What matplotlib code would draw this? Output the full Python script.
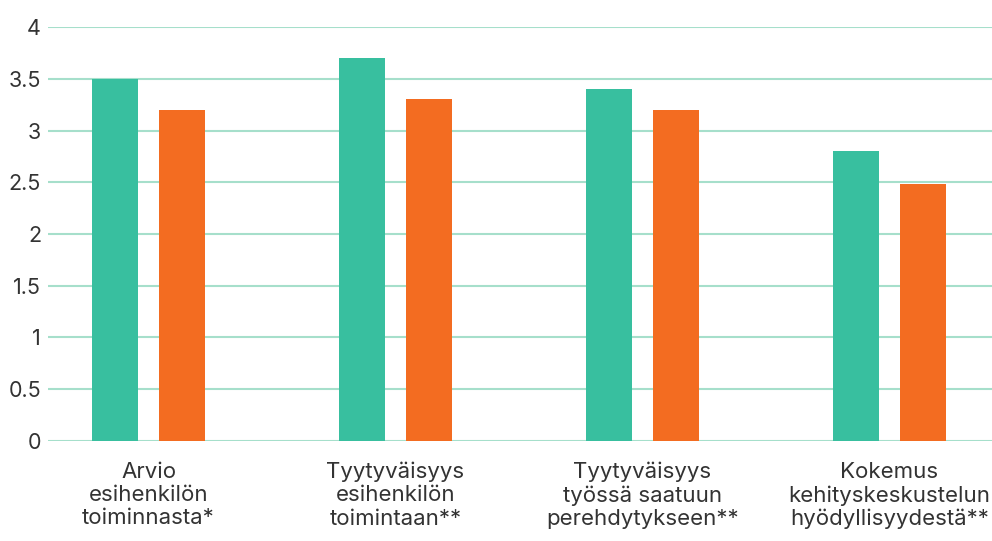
import numpy as np
import matplotlib.pyplot as plt

categories = ['Arvio\nesihenkilön\ntoiminnasta*',
              'Tyytyväisyys\nesihenkilön\ntoimintaan**',
              'Tyytyväisyys\ntyössä saatuun\nperehdytykseen**',
              'Kokemus\nkehityskeskustelun\nhyödyllisyydestä**']
green_vals = [3.5, 3.7, 3.4, 2.8]
orange_vals = [3.2, 3.3, 3.2, 2.48]
yticks = [0, 0.5, 1, 1.5, 2, 2.5, 3, 3.5, 4]

plt.rcParams['font.family'] = ['Inter', 'DejaVu Sans']

fig = plt.figure(figsize=(9.92, 5.41), dpi=100)
ax = fig.add_axes([0.0484, 0.185, 0.9516, 0.765])

x = np.arange(len(categories))
w = 0.186
off = 0.136
ax.bar(x - off, green_vals, w, color='#38bf9f', zorder=3)
ax.bar(x + off, orange_vals, w, color='#f36c21', zorder=3)

ax.set_ylim(0, 4)
ax.set_xlim(-0.407, 3.415)
ax.set_yticks(yticks)
ax.set_yticklabels(['0', '0.5', '1', '1.5', '2', '2.5', '3', '3.5', '4'])
ax.yaxis.grid(True, color='#a6dfcb', linewidth=1.5, zorder=0)
ax.set_xticks(x)
ax.set_xticklabels(categories, linespacing=1.2)
for s in ax.spines.values():
    s.set_visible(False)
ax.tick_params(axis='y', length=0, pad=5, labelsize=15.5, labelcolor='#333333')
ax.tick_params(axis='x', length=0, pad=15, labelsize=16, labelcolor='#333333')

fig.savefig('out.png', dpi=100)
